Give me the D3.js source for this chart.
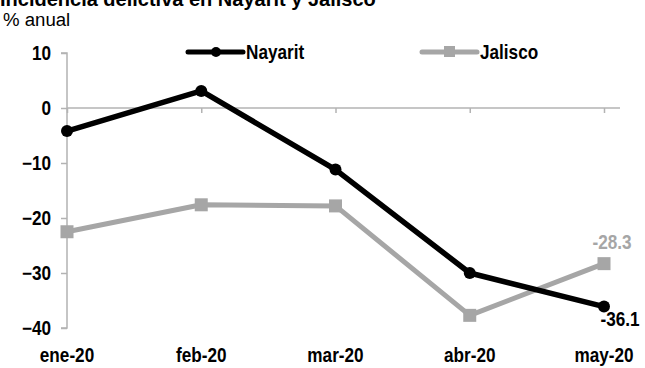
<!DOCTYPE html>
<html><head><meta charset="utf-8">
<script src="https://cdn.jsdelivr.net/npm/d3@7/dist/d3.min.js"></script>
<style>
body{margin:0;background:#fff;}
text{font-family:"Liberation Sans Narrow","Arial Narrow","Liberation Sans",Arial,sans-serif;}
</style></head>
<body><svg id="c" width="645" height="368"></svg>
<script>
const categories = ["ene-20","feb-20","mar-20","abr-20","may-20"];
const nayarit = [-4.2, 3.1, -11.2, -30.0, -36.1];
const jalisco = [-22.5, -17.6, -17.8, -37.7, -28.3];
const yTicks = [10, 0, -10, -20, -30, -40];
const seriesNames = ["Nayarit", "Jalisco"];

const svg = d3.select("#c");
const black = "#000", gray = "#a6a6a6", axisCol = "#b3b3b3";

const x = d3.scalePoint().domain(categories).range([67, 604]);
const y = d3.scaleLinear().domain([-40, 10]).range([328, 53]);

// condensed text helper
function txt(parent, px, py, str, o) {
  o = o || {};
  const sx = o.sx || 0.88;
  return parent.append("text")
    .attr("transform", `translate(${px},${py}) scale(${sx},1)`)
    .attr("text-anchor", o.anchor || "start")
    .attr("dy", o.dy || null)
    .attr("font-size", o.size || 19.5)
    .attr("font-weight", o.bold === false ? "normal" : "bold")
    .attr("fill", o.fill || "#000")
    .text(str);
}

// title (partially clipped at top, as in the reference) and subtitle
txt(svg, 0, 6, "Incidencia delictiva en Nayarit y Jalisco", {size: 20, sx: 1.0});
txt(svg, 3, 26, "% anual", {size: 19, bold: false, sx: 0.98});

// y axis
const yAxis = d3.axisLeft(y).tickValues(yTicks).tickSize(6).tickFormat("");
const gy = svg.append("g").attr("transform", "translate(67,0)").call(yAxis);
gy.select(".domain").attr("stroke", axisCol).attr("stroke-width", 1.5).attr("d", `M-6,${y(10)}H0V${y(-40)}H-6`);
gy.selectAll(".tick line").attr("stroke", axisCol).attr("stroke-width", 1.5);
const gyl = svg.append("g");
yTicks.forEach(t => txt(gyl, 51, y(t), d3.format("d")(t), {anchor: "end", dy: "0.36em"}));

// zero line with category ticks
const gx = svg.append("g").attr("transform", `translate(0,${y(0)})`)
  .call(d3.axisBottom(x).tickSize(5).tickFormat(""));
gx.select(".domain").attr("stroke", axisCol).attr("stroke-width", 1.5).attr("d", `M67,0H620`);
gx.selectAll(".tick line").attr("stroke", axisCol).attr("stroke-width", 1.5);

// category labels at bottom
const gcl = svg.append("g");
categories.forEach(c => txt(gcl, x(c), 362, c, {anchor: "middle"}));

const line = d3.line().x((d, i) => x(categories[i])).y(d => y(d));

// Jalisco
svg.append("path").datum(jalisco).attr("d", line).attr("fill", "none")
  .attr("stroke", gray).attr("stroke-width", 5).attr("stroke-linejoin", "round");
svg.append("g").selectAll("rect").data(jalisco).join("rect")
  .attr("x", (d, i) => x(categories[i]) - 6.5).attr("y", d => y(d) - 6.5)
  .attr("width", 13).attr("height", 13).attr("fill", gray);

// Nayarit
svg.append("path").datum(nayarit).attr("d", line).attr("fill", "none")
  .attr("stroke", black).attr("stroke-width", 5.5).attr("stroke-linejoin", "round");
svg.append("g").selectAll("circle").data(nayarit).join("circle")
  .attr("cx", (d, i) => x(categories[i])).attr("cy", d => y(d)).attr("r", 6).attr("fill", black);

// end labels
const last = categories.length - 1;
txt(svg, x(categories[last]) + 8, y(jalisco[last]) - 15, jalisco[last].toFixed(1), {anchor: "middle", fill: gray});
txt(svg, x(categories[last]) + 16, y(nayarit[last]) + 19, nayarit[last].toFixed(1), {anchor: "middle"});

// legend
const leg = [{name: seriesNames[0], x0: 188, col: black, shape: "circle"},
             {name: seriesNames[1], x0: 422, col: gray, shape: "rect"}];
const lg = svg.append("g");
leg.forEach(l => {
  lg.append("line").attr("x1", l.x0).attr("x2", l.x0 + 55).attr("y1", 52).attr("y2", 52)
    .attr("stroke", l.col).attr("stroke-width", 5).attr("stroke-linecap", "round");
  if (l.shape === "circle") lg.append("circle").attr("cx", l.x0 + 28).attr("cy", 52).attr("r", 5).attr("fill", l.col);
  else lg.append("rect").attr("x", l.x0 + 22).attr("y", 46).attr("width", 11).attr("height", 11).attr("fill", l.col);
  txt(lg, l.x0 + 58, 59, l.name);
});
</script></body></html>
